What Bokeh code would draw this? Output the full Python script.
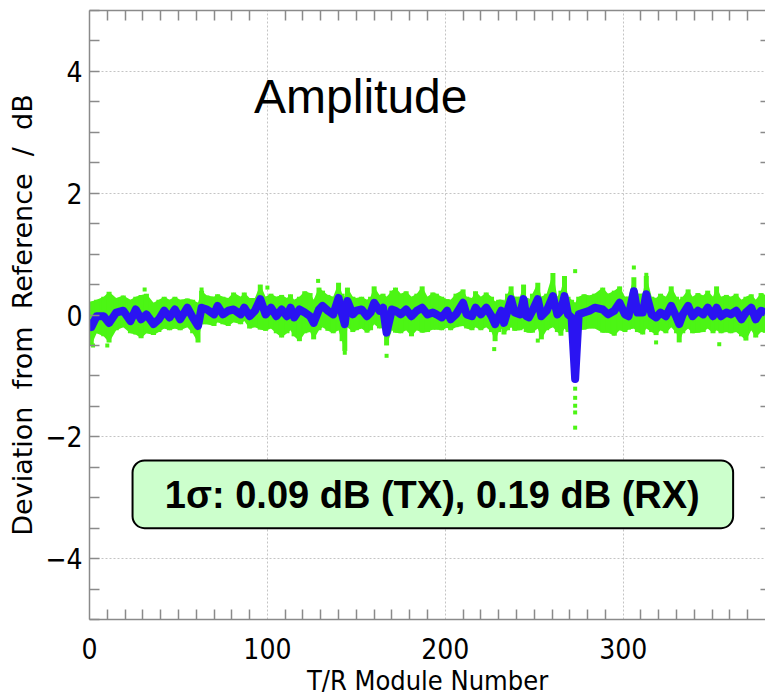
from bokeh.plotting import figure
from bokeh.models import Range1d, LinearAxis, BoxAnnotation, Label, SingleIntervalTicker, FixedTicker, ColumnDataSource
from bokeh.embed import file_html
from bokeh.resources import INLINE

# ---- data ----
module_x = [0, 1, 4, 8, 11, 15, 19, 23, 26, 29, 32, 36, 39, 42, 45, 48, 51, 55, 58, 61, 63, 66, 70, 72, 75, 78, 81, 85, 87, 90, 93,
            96, 99, 102, 105, 108, 111, 113, 115, 118, 121, 124, 126, 129, 131, 134, 137, 140, 142, 143.5, 145, 148, 150, 153, 156, 158, 160, 163, 165, 167, 170, 172, 175, 178, 181, 184, 187, 190,
            193, 195, 198, 201, 203, 206, 210, 212, 215, 217, 220, 223, 226, 228, 230, 231.5, 233, 235, 237, 239, 242, 244, 245.5, 247, 249, 252, 254, 257, 260.5, 263, 265, 267, 269, 271, 273, 275, 278, 281, 284,
            288.5, 291.5, 295, 298, 301, 303, 306, 308, 311, 313, 316, 318.5, 321, 324, 327, 330, 331.5, 333.5, 336.5, 339, 342, 345, 347.5, 350.5, 352.5, 355, 358, 360.5, 363.5, 366.5, 369, 372, 374.5, 377.5, 380]

tx_dev = [-0.07, -0.20, -0.02, -0.02, -0.13, 0.04, 0.07, -0.10, 0.09, -0.07, 0.01, -0.15, -0.07, 0.07, -0.04, 0.09, -0.07, 0.12, -0.04, -0.18, 0.12, 0.09, 0.01, 0.15, 0.01, 0.07, 0.09, 0.01, 0.12, -0.02, 0.07,
          0.26, 0.01, 0.12, -0.02, 0.09, -0.02, 0.12, -0.04, 0.09, 0.04, -0.02, -0.13, 0.09, 0.15, 0.07, 0.01, 0.28, 0.01, -0.15, 0.23, 0.01, 0.07, 0.09, -0.02, 0.04, 0.20, 0.07, 0.12, -0.29, 0.09, 0.07, 0.01, 0.09, -0.02, 0.07, 0.12, 0.01,
          0.04, 0.01, -0.04, 0.07, -0.07, 0.01, 0.20, 0.01, -0.02, 0.12, 0.01, 0.12, -0.02, -0.15, -0.02, 0.07, -0.13, 0.07, 0.26, 0.04, 0.01, 0.26, -0.02, -0.04, 0.07, 0.26, -0.02, 0.07, 0.31, 0.01, 0.07, 0.31, 0.01, -0.04, -1.05, 0.01, 0.04, 0.07, 0.12,
          0.09, 0.01, 0.07, 0.20, 0.01, -0.02, 0.39, 0.04, 0.04, 0.34, 0.01, -0.04, 0.04, -0.02, 0.15, -0.04, -0.15, 0.01, 0.15, -0.02, 0.07, 0.01, 0.12, -0.02, 0.12, -0.02, 0.04, 0.01, 0.07, -0.07, 0.04, 0.12, -0.07, 0.07, 0.04]

rx_high = [0.20, 0.22, 0.25, 0.30, 0.38, 0.28, 0.32, 0.25, 0.30, 0.33, 0.35, 0.20, 0.25, 0.30, 0.25, 0.30, 0.25, 0.27, 0.25, 0.20, 0.40, 0.32, 0.30, 0.34, 0.30, 0.28, 0.37, 0.30, 0.37, 0.28, 0.28,
           0.50, 0.30, 0.35, 0.30, 0.33, 0.28, 0.34, 0.25, 0.30, 0.39, 0.36, 0.25, 0.45, 0.40, 0.33, 0.30, 0.53, 0.35, 0.30, 0.45, 0.30, 0.28, 0.30, 0.25, 0.30, 0.47, 0.33, 0.35, 0.30, 0.40, 0.45, 0.35, 0.39, 0.30, 0.35, 0.47, 0.30,
           0.37, 0.35, 0.30, 0.26, 0.25, 0.35, 0.42, 0.30, 0.28, 0.39, 0.30, 0.37, 0.30, 0.22, 0.25, 0.25, 0.23, 0.35, 0.47, 0.30, 0.30, 0.50, 0.28, 0.25, 0.35, 0.53, 0.30, 0.35, 0.69, 0.30, 0.40, 0.64, 0.30, 0.25, 0.20, 0.30, 0.34, 0.32, 0.35,
           0.45, 0.35, 0.40, 0.47, 0.30, 0.30, 0.62, 0.35, 0.35, 0.64, 0.30, 0.28, 0.35, 0.30, 0.47, 0.30, 0.25, 0.30, 0.42, 0.30, 0.36, 0.32, 0.40, 0.30, 0.47, 0.30, 0.33, 0.30, 0.35, 0.25, 0.30, 0.34, 0.25, 0.36, 0.33]

rx_low = [-0.30, -0.50, -0.30, -0.35, -0.45, -0.25, -0.20, -0.30, -0.32, -0.38, -0.30, -0.33, -0.28, -0.22, -0.25, -0.22, -0.25, -0.20, -0.30, -0.45, -0.15, -0.15, -0.18, -0.12, -0.15, -0.18, -0.12, -0.15, -0.10, -0.22, -0.20,
          -0.24, -0.26, -0.22, -0.30, -0.37, -0.30, -0.25, -0.35, -0.43, -0.30, -0.28, -0.40, -0.25, -0.20, -0.26, -0.30, -0.25, -0.43, -0.59, -0.20, -0.28, -0.25, -0.22, -0.29, -0.25, -0.15, -0.22, -0.20, -0.50, -0.25, -0.29, -0.30, -0.25, -0.35, -0.25, -0.29, -0.28,
          -0.24, -0.24, -0.25, -0.21, -0.25, -0.20, -0.18, -0.22, -0.25, -0.20, -0.25, -0.20, -0.28, -0.43, -0.28, -0.22, -0.32, -0.25, -0.20, -0.26, -0.25, -0.22, -0.28, -0.29, -0.29, -0.22, -0.40, -0.25, -0.20, -0.28, -0.34, -0.22, -0.28, -0.30, -1.10, -0.25, -0.24, -0.22, -0.22,
          -0.29, -0.29, -0.34, -0.25, -0.28, -0.24, -0.22, -0.28, -0.32, -0.22, -0.28, -0.33, -0.25, -0.30, -0.20, -0.30, -0.45, -0.30, -0.22, -0.30, -0.29, -0.28, -0.22, -0.30, -0.25, -0.30, -0.28, -0.30, -0.28, -0.35, -0.42, -0.25, -0.37, -0.28, -0.29]

rx_outlier_x = [2, 10, 31, 63, 100, 128.5, 143.5, 167, 227.5, 252, 273, 273, 273, 273, 273, 273, 306, 313, 318.5, 354]
rx_outlier_y = [-0.50, -0.50, 0.42, 0.42, 0.45, 0.56, -0.62, -0.67, -0.56, -0.42, 0.72, -1.21, -1.36, -1.49, -1.60, -1.85, 0.78, 0.66, -0.45, -0.48]

x_ticks = [0, 100, 200, 300]
x_minor_ticks = [v for v in range(10, 380, 10) if v % 100 != 0]
y_minor_ticks = [v / 2 for v in range(-9, 10) if v % 4 != 0]
y_tick_labels = {-4: "\u22124", -2: "\u22122", 0: "0", 2: "2", 4: "4"}

title_text = "Amplitude"
stat_text = "1\u03c3: 0.09 dB (TX), 0.19 dB (RX)"

GREEN = "#4cf514"
BLUE = "#2a14f2"
AXIS = "#8a8a8a"
NARROW = "DejaVu Sans Condensed, Liberation Sans"

p = figure(width=765, height=698, output_backend="svg", toolbar_location=None,
           x_range=Range1d(0, 380), y_range=Range1d(-5, 5),
           min_border_left=89, min_border_right=0, min_border_top=10, min_border_bottom=79,
           background_fill_color="white", border_fill_color="white")
p.outline_line_color = None

src = ColumnDataSource(dict(x=module_x, y=tx_dev, hi=rx_high, lo=rx_low))
p.varea(x="x", y1="lo", y2="hi", source=src, fill_color=GREEN)
p.segment(x0="x", y0="lo", x1="x", y1="hi", source=src, line_color=GREEN, line_width=5)
p.scatter(rx_outlier_x, rx_outlier_y, marker="square", size=4, color=GREEN, line_width=0)
p.line(x="x", y="y", source=src, line_color=BLUE, line_width=8, line_join="round")

# axes
xa = p.xaxis[0]
ya = p.yaxis[0]
xa.ticker = FixedTicker(ticks=x_ticks, minor_ticks=x_minor_ticks)
ya.ticker = SingleIntervalTicker(interval=2, num_minor_ticks=4)
ya.major_label_overrides = y_tick_labels
for ax in (xa, ya):
    ax.major_tick_in = 0
    ax.major_tick_out = 0
    ax.minor_tick_in = 10
    ax.minor_tick_out = 0
    ax.axis_line_color = AXIS
    ax.axis_line_width = 1.5
    ax.minor_tick_line_color = AXIS
    ax.minor_tick_line_width = 1.5
    ax.major_label_text_font = NARROW
    ax.major_label_text_font_size = "28px"
    ax.major_label_text_color = "black"
    ax.axis_label_text_font_style = "normal"
    ax.axis_label_text_color = "black"
xa.major_label_standoff = 18
ya.major_label_standoff = 7
xa.axis_label = "T/R Module Number"
xa.axis_label_text_font = NARROW
xa.axis_label_text_font_size = "27px"
xa.axis_label_standoff = 3
ya.axis_label = "Deviation\u00a0 from\u00a0 Reference\u00a0 /\u00a0 dB"
ya.axis_label_text_font = "DejaVu Sans"
ya.axis_label_text_font_size = "27px"
ya.axis_label_standoff = 4

top = LinearAxis(ticker=FixedTicker(ticks=[], minor_ticks=x_minor_ticks),
                 major_tick_in=0, major_tick_out=0, minor_tick_in=10, minor_tick_out=0,
                 axis_line_color=AXIS, axis_line_width=1.5, minor_tick_line_color=AXIS,
                 minor_tick_line_width=1.5, major_label_standoff=0)
p.add_layout(top, "above")

right = LinearAxis(ticker=FixedTicker(ticks=[], minor_ticks=y_minor_ticks),
                   major_tick_in=0, major_tick_out=0, minor_tick_in=5, minor_tick_out=0,
                   axis_line_color=None, minor_tick_line_color=AXIS,
                   minor_tick_line_width=1.5, major_label_standoff=0)
p.add_layout(right, "right")

for g in (p.xgrid[0], p.ygrid[0]):
    g.grid_line_color = "#c4c4c4"
    g.grid_line_dash = "2 2"
    g.grid_line_width = 1

p.add_layout(Label(x=92.5, y=3.59, text=title_text, text_font="Liberation Sans",
                   text_font_size="48px", text_color="black", text_baseline="alphabetic"))

p.add_layout(BoxAnnotation(left=24.2, right=361.8, top=-2.39, bottom=-3.5,
                           fill_color="#ccffcc", fill_alpha=1.0, line_color="black", line_alpha=1.0,
                           line_width=2, border_radius=12, level="overlay"))
p.add_layout(Label(x=192.7, y=-2.95, text=stat_text, text_font="Liberation Sans",
                   text_font_style="bold", text_font_size="38px", text_color="black",
                   text_align="center", text_baseline="middle", level="overlay"))

open("out.html", "w").write(file_html(p, INLINE))
